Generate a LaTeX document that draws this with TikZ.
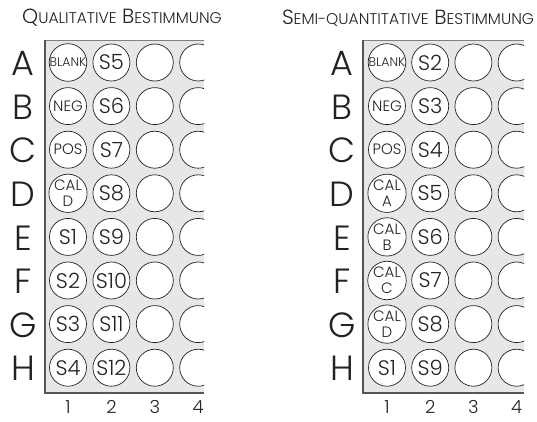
\documentclass[tikz,border=0pt]{standalone}
\usepackage{fontspec}
\IfFontExistsTF{Poppins Light}{\setmainfont{Poppins Light}}{\setmainfont{Poppins}}
\definecolor{plate}{HTML}{E6E7E9}
\definecolor{edge}{HTML}{555555}
\definecolor{ink}{HTML}{222222}
\newcommand\smc[1]{{\fontsize{15.5}{15.5}\selectfont #1}}
\tikzset{
  well/.style={circle, draw=ink, line width=0.7pt, fill=white, minimum size=37pt, inner sep=0pt, text=ink, font=\fontsize{21}{21}\selectfont},
  smallwell/.style={well, font=\fontsize{12.5}{12.5}\selectfont},
  midwell/.style={well, font=\fontsize{15}{15}\selectfont},
  calwell/.style={well, align=center, font=\fontsize{15}{16}\selectfont},
  rowlab/.style={text=ink, font=\fontsize{35}{35}\selectfont, inner sep=0pt},
  collab/.style={text=ink, font=\fontsize{18}{18}\selectfont, inner sep=0pt},
  titlelab/.style={text=ink, font=\fontsize{20.5}{20.5}\selectfont, inner sep=0pt},
}
\begin{document}
\begin{tikzpicture}[x=1pt,y=-1pt]
\useasboundingbox (0,0) rectangle (537,421);
% ---------------- left plate ----------------
\node[titlelab] (t1) at (122,18) {Q\smc{UALITATIVE} B\smc{ESTIMMUNG}};
\fill[plate] (45,40) rectangle (204,393);
\draw[gray, line width=0.5pt] (45,40) -- (204,40);
\begin{scope}
\clip (45,40) rectangle (204,393);
\foreach \r [count=\i from 0] in {A,B,C,D,E,F,G,H}{
  \node[well] (L3\r) at ({68+2*43.4},{62.5+43.6*\i}) {};
  \node[well] (L4\r) at ({68+3*43.4},{62.5+43.6*\i}) {};
}
\end{scope}
\draw[edge, line width=1.4pt] (45,40) -- (45,393) -- (204,393);
\node[smallwell] (L1A) at (68,62.5) {BLANK};
\node[midwell] (L1B) at (68,106.1) {NEG};
\node[midwell] (L1C) at (68,149.7) {POS};
\node[calwell] (L1D) at (68,193.3) {CAL\\D};
\node[well] (L1E) at (68,236.9) {S1};
\node[well] (L1F) at (68,280.5) {S2};
\node[well] (L1G) at (68,324.1) {S3};
\node[well] (L1H) at (68,367.7) {S4};
\foreach \r/\s [count=\i from 0] in {A/S5,B/S6,C/S7,D/S8,E/S9,F/S10,G/S11,H/S12}{
  \node[well] (L2\r) at (111.4,{62.5+43.6*\i}) {\s};
  \node[rowlab] (LR\r) at (23,{63.5+43.6*\i}) {\r};
}
\foreach \c [count=\i from 0] in {1,2,3,4}{
  \node[collab] (LC\c) at ({68+43.4*\i},407) {\c};
}
% ---------------- right plate ----------------
\node[titlelab] (t2) at (408,18) {S\smc{EMI-QUANTITATIVE} B\smc{ESTIMMUNG}};
\fill[plate] (363,40) rectangle (524,393);
\draw[gray, line width=0.5pt] (363,40) -- (524,40);
\begin{scope}
\clip (363,40) rectangle (524,393);
\foreach \r [count=\i from 0] in {A,B,C,D,E,F,G,H}{
  \node[well] (R3\r) at ({387+2*43.2},{62.5+43.6*\i}) {};
  \node[well] (R4\r) at ({387+3*43.2},{62.5+43.6*\i}) {};
}
\end{scope}
\draw[edge, line width=1.4pt] (363,40) -- (363,393) -- (524,393);
\node[smallwell] (R1A) at (387,62.5) {BLANK};
\node[midwell] (R1B) at (387,106.1) {NEG};
\node[midwell] (R1C) at (387,149.7) {POS};
\node[calwell] (R1D) at (387,193.3) {CAL\\A};
\node[calwell] (R1E) at (387,236.9) {CAL\\B};
\node[calwell] (R1F) at (387,280.5) {CAL\\C};
\node[calwell] (R1G) at (387,324.1) {CAL\\D};
\node[well] (R1H) at (387,367.7) {S1};
\foreach \r/\s [count=\i from 0] in {A/S2,B/S3,C/S4,D/S5,E/S6,F/S7,G/S8,H/S9}{
  \node[well] (R2\r) at (430.2,{62.5+43.6*\i}) {\s};
  \node[rowlab] (RR\r) at (342,{63.5+43.6*\i}) {\r};
}
\foreach \c [count=\i from 0] in {1,2,3,4}{
  \node[collab] (RC\c) at ({387+43.2*\i},407) {\c};
}
\end{tikzpicture}
\end{document}
